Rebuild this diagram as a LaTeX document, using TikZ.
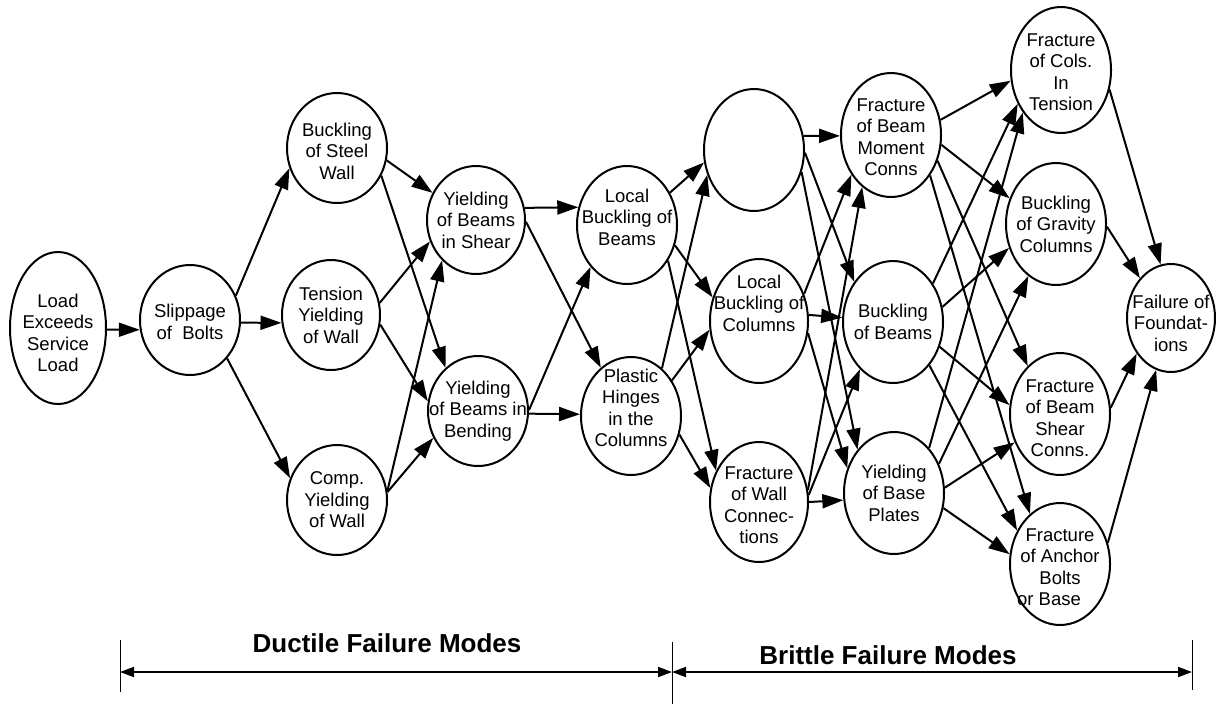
\documentclass[tikz,border=0pt]{standalone}
\usepackage{fontspec}
\setmainfont{Liberation Sans}
\usetikzlibrary{arrows.meta,shapes.geometric}
\begin{document}
\begin{tikzpicture}[x=1pt,y=-1pt,
  el/.style={draw,ellipse,line width=2pt,inner sep=0pt},
  lab/.style={align=center,font=\fontsize{18.5}{21.5}\selectfont,inner sep=0pt},
  arr/.style={line width=2pt,-{Triangle[length=21pt,width=14pt]}},
  dim/.style={line width=2pt,{Triangle[length=14pt,width=10pt]}-{Triangle[length=14pt,width=10pt]}},
  tick/.style={line width=1pt},
  big/.style={font=\fontsize{26}{30}\selectfont\bfseries,inner sep=0pt}
]
\useasboundingbox (0,0) rectangle (1225,705);

% nodes
\node[el,minimum width=96pt,minimum height=152pt,label={[lab,yshift=-5pt]center:{Load\\Exceeds\\Service\\Load}}] (load) at (58,328) {};
\node[el,minimum width=100pt,minimum height=110pt,label={[lab,yshift=-2pt]center:{Slippage\\of~ Bolts}}] (slip) at (190,320) {};
\node[el,minimum width=100pt,minimum height=110pt,label={[lab,yshift=-3pt]center:{Buckling\\of Steel\\Wall}}] (bsw) at (337,148) {};
\node[el,minimum width=98pt,minimum height=110pt,label={[lab]center:{Tension\\Yielding\\of Wall}}] (tyw) at (331,315) {};
\node[el,minimum width=100pt,minimum height=110pt,label={[lab]center:{Comp.\\Yielding\\of Wall}}] (cyw) at (337,500) {};
\node[el,minimum width=98pt,minimum height=108pt,label={[lab]center:{Yielding\\of Beams\\in Shear}}] (ybs) at (476,220) {};
\node[el,minimum width=100pt,minimum height=110pt,label={[lab]center:{Yielding\\of Beams in\\Bending}}] (ybb) at (478,411) {};
\node[el,minimum width=100pt,minimum height=118pt,label={[lab,yshift=8pt]center:{Local\\Buckling of\\Beams}}] (lbb) at (627,225) {};
\node[el,minimum width=100pt,minimum height=118pt,label={[lab,yshift=8pt]center:{Plastic\\Hinges\\in the\\Columns}}] (ph) at (631,416) {};
\node[el,minimum width=100pt,minimum height=122pt] (emp) at (754,150) {};
\node[el,minimum width=100pt,minimum height=124pt,label={[lab,yshift=-2pt]center:{Fracture\\of Beam\\Moment\\Conns}}] (fbmc) at (891,135) {};
\node[el,minimum width=98pt,minimum height=124pt,label={[lab,yshift=18pt]center:{Local\\Buckling of\\Columns}}] (lbc) at (759,321) {};
\node[el,minimum width=100pt,minimum height=122pt,label={[lab]center:{Buckling\\of Beams}}] (bob) at (893,322) {};
\node[el,minimum width=98pt,minimum height=120pt,label={[lab,yshift=-3pt]center:{Fracture\\of Wall\\Connec-\\tions}}] (fwc) at (759,502) {};
\node[el,minimum width=100pt,minimum height=122pt,label={[lab]center:{Yielding\\of Base\\Plates}}] (ybp) at (894,493) {};
\node[el,minimum width=100pt,minimum height=126pt,label={[lab,yshift=-2pt]center:{Fracture\\of Cols.\\In\\Tension}}] (fct) at (1061,70) {};
\node[el,minimum width=100pt,minimum height=122pt,label={[lab]center:{Buckling\\of Gravity\\Columns}}] (bgc) at (1056,224) {};
\node[el,minimum width=88pt,minimum height=108pt,label={[lab,yshift=-5pt]center:{Failure of\\Foundat-\\ions}}] (fof) at (1171,318) {};
\node[el,minimum width=100pt,minimum height=122pt,label={[lab,yshift=-4pt]center:{Fracture\\of Beam\\Shear\\Conns.}}] (fbsc) at (1060,414) {};
\node[el,minimum width=100pt,minimum height=122pt,label={[lab,yshift=-3pt]center:{Fracture\\of Anchor\\Bolts\\or Base\hspace*{22pt}}}] (fab) at (1060,564) {};

% edges: first stage
\draw[arr] (load.-2) -- (slip.191);
\draw[arr] (slip.28) -- (bsw.203);
\draw[arr] (slip.-3) -- (tyw.189);
\draw[arr] (slip.-46) -- (cyw.155);
% second stage
\draw[arr] (bsw.-14) -- (ybs.148);
\draw[arr] (bsw.-32) -- (ybb.127);
\draw[arr] (tyw.14) -- (ybs.205);
\draw[arr] (tyw.-11) -- (ybb.169);
\draw[arr] (cyw.10) -- (ybs.230);
\draw[arr] (cyw.9) -- (ybb.211);
% third stage
\draw[arr] (ybs.14) -- (lbb.160);
\draw[arr] (ybs.-2) -- (ph.122);
\draw[arr] (ybb.1) -- (lbb.229);
\draw[arr] (ybb.-3) -- (ph.178);
% fourth stage
\draw[arr] (lbb.37) -- (emp.194);
\draw[arr] (lbb.-23) -- (lbc.153);
\draw[arr] (lbb.-41) -- (fwc.144);
\draw[arr] (ph.57) -- (emp.208);
\draw[arr] (ph.41) -- (lbc.190);
\draw[arr] (ph.-21) -- (fwc.164);
% fifth stage
\draw[arr] (emp.16) -- (fbmc.181);
\draw[arr] (emp.-3) -- (bob.134);
\draw[arr] (emp.-25) -- (ybp.130);
\draw[arr] (lbc.31) -- (fbmc.225);
\draw[arr] (lbc.7) -- (bob.175);
\draw[arr] (lbc.-14) -- (ybp.152);
\draw[arr] (fwc.14) -- (fbmc.241);
\draw[arr] (fwc.8) -- (bob.235);
\draw[arr] (fwc.0) -- (ybp.188);
% sixth stage
\draw[arr] (fbmc.17) -- (fct.192);
\draw[arr] (fbmc.-11) -- (bgc.151);
\draw[arr] (fbmc.-29) -- (fbsc.124);
\draw[arr] (fbmc.-46) -- (fab.121);
\draw[arr] (bob.44) -- (fct.218);
\draw[arr] (bob.17) -- (bgc.207);
\draw[arr] (bob.-28) -- (fbsc.170);
\draw[arr] (bob.-50) -- (fab.142);
\draw[arr] (ybp.52) -- (fct.228);
\draw[arr] (ybp.33) -- (bgc.242);
\draw[arr] (ybp.6) -- (fbsc.212);
\draw[arr] (ybp.-17) -- (fab.169);
% final stage
\draw[arr] (fct.-22) -- (fof.101);
\draw[arr] (bgc.-3) -- (fof.128);
\draw[arr] (fbsc.7) -- (fof.226);
\draw[arr] (fab.24) -- (fof.254);

% bottom dimension lines
\coordinate (lt) at (120,640); \coordinate (lb) at (120,692);
\coordinate (mt) at (672,642); \coordinate (mb) at (672,704);
\coordinate (rt) at (1192,640); \coordinate (rb) at (1192,690);
\coordinate (la) at (120,672); \coordinate (ma) at (672,672); \coordinate (ra) at (1192,672);
\draw[tick] (lt) -- (lb);
\draw[tick] (mt) -- (mb);
\draw[tick] (rt) -- (rb);
\draw[dim] (la) -- (ma);
\draw[dim] (ma) -- (ra);
\node[big] (ductile) at (387,643) {Ductile Failure Modes};
\node[big] (brittle) at (888,655) {Brittle Failure Modes};
\end{tikzpicture}
\end{document}
